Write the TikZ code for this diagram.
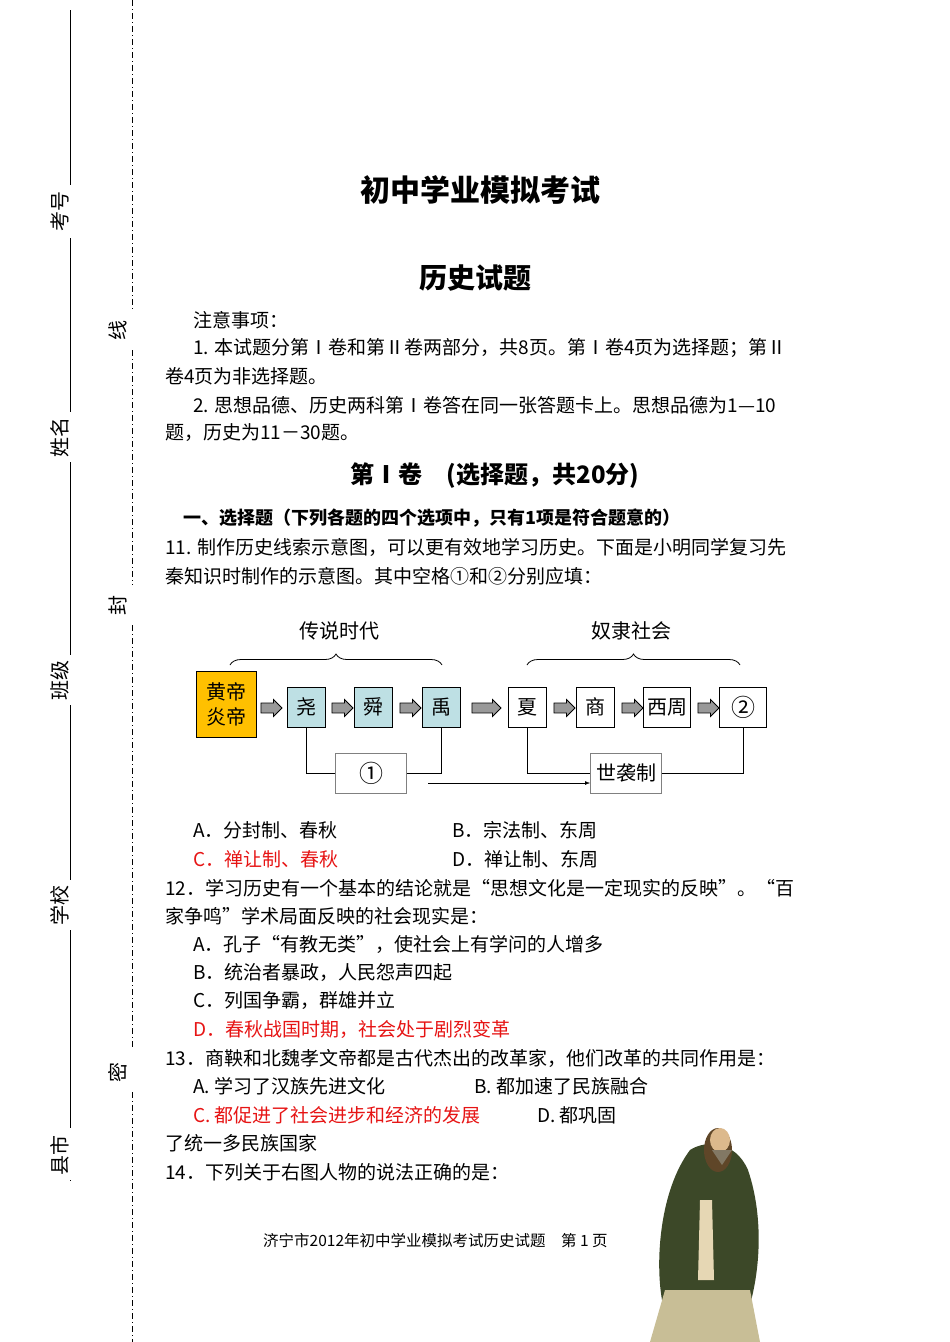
\documentclass[tikz,border=0pt]{standalone}
\usepackage{fontspec}
\setmainfont{Noto Sans CJK SC}
\usetikzlibrary{shapes.arrows,decorations.pathreplacing,arrows.meta}
\definecolor{robe}{RGB}{60,72,40}
\definecolor{hem}{RGB}{200,190,150}
\definecolor{hair}{RGB}{95,70,40}
\definecolor{skin}{RGB}{220,185,140}
\definecolor{beard}{RGB}{130,120,100}
\definecolor{sash}{RGB}{230,215,180}
\tikzset{
 txt/.style={anchor=west,inner sep=0pt,font=\fontsize{19}{20}\selectfont},
 red/.style={text={rgb,255:red,230;green,20;blue,20}},
 box/.style={draw,thick,minimum width=38pt,minimum height=40pt,inner sep=0pt,font=\fontsize{20}{22}\selectfont},
 teal/.style={fill={rgb,255:red,190;green,224;blue,228}},
 barrow/.style={single arrow,draw,thick,fill=gray!80,minimum height=21pt,minimum width=17pt,single arrow head extend=3.5pt,inner sep=4.5pt,single arrow tip angle=90},
 side/.style={inner sep=0pt,rotate=90,font=\fontsize{20}{22}\selectfont},
 conn/.style={thick},
}
\begin{document}
\begin{tikzpicture}[x=1pt,y=-1pt]
\useasboundingbox (0,0) rectangle (950,1342);
% margin
\draw (70,10) -- (70,185) (70,238)--(70,412) (70,462)--(70,655) (70,705)--(70,880) (70,930)--(70,1128) (70,1180)--(70,1181);
\node[side] (kh) at (60,211) {考号};
\node[side] (xm) at (60,437) {姓名};
\node[side] (bj) at (60,680) {班级};
\node[side] (xx) at (60,905) {学校};
\node[side] (xs) at (60,1155) {县市};
\node[side] (xian) at (118,330) {线};
\node[side] (feng) at (118,605) {封};
\node[side] (mi) at (118,1072) {密};
\draw[thick,dash pattern=on 6pt off 3pt on 1pt off 3pt] (132,0)--(132,310) (132,350)--(132,585) (132,625)--(132,1050) (132,1092)--(132,1342);
% titles
\node[inner sep=0pt,font=\bfseries\fontsize{30}{32}\selectfont] (t1) at (480,190) {初中学业模拟考试};
\node[inner sep=0pt,font=\bfseries\fontsize{28}{30}\selectfont] (t2) at (475,278) {历史试题};
\node[txt] (l1) at (193,320) {注意事项：};
\node[txt] (l2) at (193,348) {1. 本试题分第Ⅰ卷和第Ⅱ卷两部分，共8页。第Ⅰ卷4页为选择题；第Ⅱ};
\node[txt] (l3) at (165,376) {卷4页为非选择题。};
\node[txt] (l4) at (193,405) {2. 思想品德、历史两科第Ⅰ卷答在同一张答题卡上。思想品德为1—10};
\node[txt] (l5) at (165,433) {题，历史为11－30题。};
\node[inner sep=0pt,font=\bfseries\fontsize{24}{26}\selectfont] (t3) at (495,476) {第Ⅰ卷\quad (选择题，共20分)};
\node[txt,font=\bfseries\fontsize{18}{20}\selectfont] (l6) at (183,518) {一、选择题（下列各题的四个选项中，只有1项是符合题意的）};
\node[txt] (l7) at (165,547) {11. 制作历史线索示意图，可以更有效地学习历史。下面是小明同学复习先};
\node[txt] (l8) at (165,576) {秦知识时制作的示意图。其中空格①和②分别应填：};
% diagram
\node[draw,thick,fill={rgb,255:red,255;green,192;blue,0},minimum width=60pt,minimum height=66pt,inner sep=0pt,align=center,font=\fontsize{20}{25}\selectfont] (hd) at (226,704) {黄帝\\炎帝};
\node[box,teal] (yao) at (306,707) {尧};
\node[box,teal] (shun) at (373,707) {舜};
\node[box,teal] (yu) at (441,707) {禹};
\node[box] (xia) at (527,707) {夏};
\node[box] (shang) at (595,707) {商};
\node[box,minimum width=47pt] (xz) at (667,707) {西周};
\node[box,minimum width=47pt,font=\fontsize{24}{26}\selectfont] (c2) at (743,707) {②};
\node[box,draw=gray,minimum width=71pt,font=\fontsize{24}{26}\selectfont] (c1) at (371,773) {①};
\node[box,draw=gray,minimum width=71pt] (sx) at (626,773) {世袭制};
\node[barrow] (a1) at (269,708) {};
\node[barrow] (a2) at (340,708) {};
\node[barrow] (a3) at (408,708) {};
\node[barrow,minimum height=29pt] (a4) at (484,708) {};
\node[barrow] (a5) at (562,708) {};
\node[barrow] (a6) at (630,708) {};
\node[barrow] (a7) at (706,708) {};
\draw[conn] (yao.south) |- (c1.west);
\draw[conn] (c1.east) -| (yu.south);
\draw[conn] (xia.south) |- (sx.west);
\draw[conn] (sx.east) -| (c2.south);
\coordinate (s1) at (428,783);
\coordinate (s2) at (590,783);
\draw[-{Latex[length=5pt]}] (s1) -- (s2);
\draw[thick,decorate,decoration={brace,amplitude=11pt}] (230,665) -- (442,665);
\draw[thick,decorate,decoration={brace,amplitude=11pt}] (527,665) -- (740,665);
\node[inner sep=0pt,font=\fontsize{20}{22}\selectfont] (cs) at (339,631) {传说时代};
\node[inner sep=0pt,font=\fontsize{20}{22}\selectfont] (nl) at (631,631) {奴隶社会};
% options
\node[txt] (o1) at (193,830) {A．分封制、春秋};
\node[txt] (o2) at (452,830) {B．宗法制、东周};
\node[txt,red] (o3) at (193,859) {C．禅让制、春秋};
\node[txt] (o4) at (452,859) {D．禅让制、东周};
\node[txt] (q1) at (165,888) {12．学习历史有一个基本的结论就是“思想文化是一定现实的反映”。“百};
\node[txt] (q2) at (165,916) {家争鸣”学术局面反映的社会现实是：};
\node[txt] (q3) at (193,944) {A．孔子“有教无类”，使社会上有学问的人增多};
\node[txt] (q4) at (193,972) {B．统治者暴政，人民怨声四起};
\node[txt] (q5) at (193,1000) {C．列国争霸，群雄并立};
\node[txt,red] (q6) at (193,1029) {D．春秋战国时期，社会处于剧烈变革};
\node[txt] (r1) at (165,1058) {13．商鞅和北魏孝文帝都是古代杰出的改革家，他们改革的共同作用是：};
\node[txt] (r2) at (193,1086) {A. 学习了汉族先进文化};
\node[txt] (r3) at (474,1086) {B. 都加速了民族融合};
\node[txt,red] (r4) at (193,1115) {C. 都促进了社会进步和经济的发展};
\node[txt] (r5) at (537,1115) {D. 都巩固};
\node[txt] (r6) at (165,1143) {了统一多民族国家};
\node[txt] (r7) at (165,1172) {14．下列关于右图人物的说法正确的是：};
\node[txt,font=\fontsize{15.5}{17}\selectfont] (ft) at (263,1241) {济宁市2012年初中学业模拟考试历史试题\quad 第 1 页};
% figure (Confucius)
\fill[robe] (690,1150) .. controls (660,1190) and (655,1260) .. (662,1300) -- (680,1320) -- (745,1320) .. controls (760,1280) and (765,1220) .. (748,1170) .. controls (735,1140) and (705,1140) .. (690,1150) -- cycle;
\fill[hem] (665,1290) -- (650,1342) -- (760,1342) -- (750,1290) -- cycle;
\fill[hair] (718,1150) ellipse (14pt and 22pt);
\fill[skin] (720,1140) ellipse (10pt and 12pt);
\fill[beard] (722,1165) -- (712,1150) -- (732,1150) -- cycle;
\fill[sash] (700,1200) -- (712,1200) -- (714,1280) -- (698,1280) -- cycle;
\end{tikzpicture}
\end{document}
